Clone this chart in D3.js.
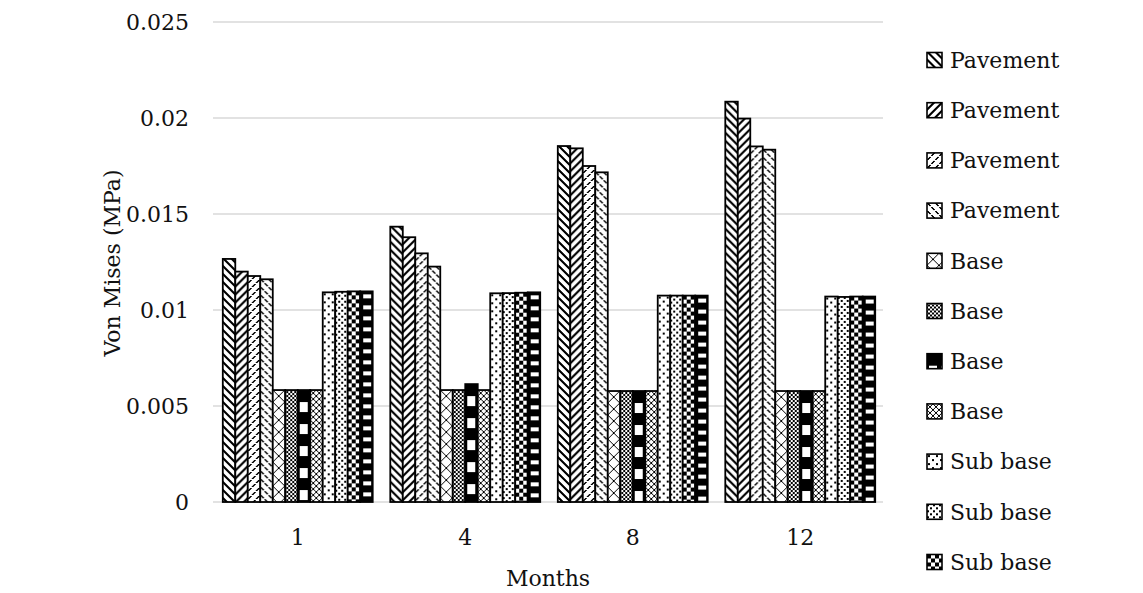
<!DOCTYPE html>
<html>
<head>
<meta charset="utf-8">
<script src="https://cdn.jsdelivr.net/npm/d3@7"></script>
<style>
  html, body { margin: 0; padding: 0; background: #fff; }
  svg { display: block; font-family: "DejaVu Serif", serif; }
</style>
</head>
<body>
<svg id="chart" width="1143" height="593"></svg>
<script>
// ---- data ----
const months = ["1", "4", "8", "12"];
const seriesLabels = [
  "Pavement", "Pavement", "Pavement", "Pavement",
  "Base", "Base", "Base", "Base",
  "Sub base", "Sub base", "Sub base", "Sub base"
];
const pavement1 = [0.01266, 0.01434, 0.01854, 0.02085];
const pavement2 = [0.01200, 0.01379, 0.01842, 0.01997];
const pavement3 = [0.01177, 0.01295, 0.01750, 0.01852];
const pavement4 = [0.01160, 0.01226, 0.01717, 0.01835];
const base1 = [0.00583, 0.00583, 0.00578, 0.00578];
const base2 = [0.00583, 0.00583, 0.00578, 0.00578];
const base3 = [0.00583, 0.00614, 0.00578, 0.00578];
const base4 = [0.00583, 0.00583, 0.00578, 0.00578];
const subBase1 = [0.01092, 0.01087, 0.01075, 0.01070];
const subBase2 = [0.01095, 0.01088, 0.01075, 0.01068];
const subBase3 = [0.01097, 0.01090, 0.01075, 0.01070];
const subBase4 = [0.01097, 0.01092, 0.01075, 0.01070];
const seriesValues = [
  pavement1, pavement2, pavement3, pavement4,
  base1, base2, base3, base4,
  subBase1, subBase2, subBase3, subBase4
];
const yTickValues = [0, 0.005, 0.01, 0.015, 0.02, 0.025];
const yTickLabels = ["0", "0.005", "0.01", "0.015", "0.02", "0.025"];
const xAxisTitle = "Months";
const yAxisTitle = "Von Mises (MPa)";

// ---- monochrome fill patterns (1 = black pixel) ----
const fillBitmaps = [
  ["11100000","01110000","00111000","00011100","00001110","00000111","10000011","11000001"],
  ["00000111","00001110","00011100","00111000","01110000","11100000","11000001","10000011"],
  ["00000011","00000110","00001100","00000000","00110000","01100000","11000000","00000000"],
  ["11000000","01100000","00110000","00000000","00001100","00000110","00000011","00000000"],
  ["100000000001","010000000010","001000000100","000100001000","000010010000","000001100000",
   "000001100000","000010010000","000100001000","001000000100","010000000010","100000000001"],
  ["1001","0110","0110","1001"],
  ["111111111111","111111111111","111111111111","111111111111","111111111111","111111111111",
   "111111111111","111111111111","111111111111","111111111111","111111111111","111111111111",
   "110000000011","110000000011","110000000011","110000000011","110000000011","110000000011",
   "110000000011","110000000011","110000000011","110000000011"],
  ["100001","010010","001100","001100","010010","100001"],
  ["00000000","01100000","01100000","00000000","00000000","00000110","00000110","00000000"],
  ["110000","110000","000000","000110","000110","000000"],
  ["11110000","11110000","11110000","11110000","00001111","00001111","00001111","00001111"],
  ["111111111111","111111111111","111111111111","111000000001","111000000001","111000000001",
   "111000000001","111111111111","111111111111","111111111111","111111111111"]
];

const W = 1143, H = 593;
const textColor = "#111";
const svg = d3.select("#chart");
svg.append("rect").attr("width", W).attr("height", H).attr("fill", "#fff");

const defs = svg.append("defs");
fillBitmaps.forEach((rows, i) => {
  const pw = rows[0].length, ph = rows.length;
  const p = defs.append("pattern")
    .attr("id", "fill" + i)
    .attr("patternUnits", "userSpaceOnUse")
    .attr("width", pw).attr("height", ph);
  p.append("rect").attr("width", pw).attr("height", ph).attr("fill", "#fff");
  rows.forEach((row, r) => {
    [...row].forEach((c, k) => {
      if (c === "1") {
        p.append("rect").attr("x", k).attr("y", r)
          .attr("width", 1).attr("height", 1)
          .attr("fill", "#000").attr("shape-rendering", "crispEdges");
      }
    });
  });
});

// ---- scales ----
const plotLeft = 213, plotRight = 883;
const x0 = d3.scaleBand().domain(months).range([plotLeft + 1, plotRight + 1])
  .paddingInner(0.105).paddingOuter(0.0525);
const x1 = d3.scaleBand().domain(d3.range(seriesValues.length)).range([0, x0.bandwidth()]);
const y = d3.scaleLinear().domain([0, 0.025]).range([502, 22]);

// ---- gridlines ----
svg.append("g").selectAll("line").data(yTickValues).join("line")
  .attr("x1", plotLeft).attr("x2", plotRight)
  .attr("y1", d => y(d)).attr("y2", d => y(d))
  .attr("stroke", "#d9d9d9").attr("stroke-width", 1.3);

// ---- y tick labels ----
svg.append("g").selectAll("text").data(yTickValues).join("text")
  .attr("x", 189).attr("y", d => y(d)).attr("dy", "0.35em")
  .attr("text-anchor", "end").attr("font-size", 22).attr("fill", textColor)
  .text((d, i) => yTickLabels[i]);

// ---- bars ----
const groups = svg.append("g").selectAll("g").data(months).join("g")
  .attr("transform", d => `translate(${x0(d)},0)`);
groups.each(function(m, mi) {
  const g = d3.select(this);
  seriesValues.forEach((vals, si) => {
    const v = vals[mi];
    const bar = g.append("g").attr("transform", `translate(${x1(si)},${y(v)})`);
    bar.append("rect")
      .attr("x", 0).attr("y", 0)
      .attr("width", x1.bandwidth())
      .attr("height", y(0) - y(v))
      .attr("fill", `url(#fill${si})`)
      .attr("stroke", "#000").attr("stroke-width", 1.8);
  });
});

// ---- x category labels ----
svg.append("g").selectAll("text").data(months).join("text")
  .attr("x", d => x0(d) + x0.bandwidth() / 2).attr("y", 537).attr("dy", "0.35em")
  .attr("text-anchor", "middle").attr("font-size", 22).attr("fill", textColor)
  .text(d => d);

// ---- axis titles ----
svg.append("text")
  .attr("x", (plotLeft + plotRight) / 2).attr("y", 578).attr("dy", "0.35em")
  .attr("text-anchor", "middle").attr("font-size", 22).attr("fill", textColor)
  .text(xAxisTitle);
svg.append("text")
  .attr("transform", "translate(112,263) rotate(-90)").attr("dy", "0.35em")
  .attr("text-anchor", "middle").attr("font-size", 22).attr("fill", textColor)
  .text(yAxisTitle);

// ---- legend ----
const legendTop = 60, legendStep = 50.2;
const legendRows = seriesLabels.map((label, i) => ({ label, i, cy: legendTop + i * legendStep }))
  .filter(d => d.cy + 10 < H);
const leg = svg.append("g").selectAll("g").data(legendRows).join("g")
  .attr("transform", d => `translate(927,${d.cy - 7.5})`);
leg.append("rect")
  .attr("width", 15).attr("height", 15)
  .attr("fill", d => `url(#fill${d.i})`)
  .attr("stroke", "#000").attr("stroke-width", 1.6);
leg.append("text")
  .attr("x", 23).attr("y", 7.5).attr("dy", "0.35em")
  .attr("font-size", 22).attr("fill", textColor)
  .text(d => d.label);
</script>
</body>
</html>
